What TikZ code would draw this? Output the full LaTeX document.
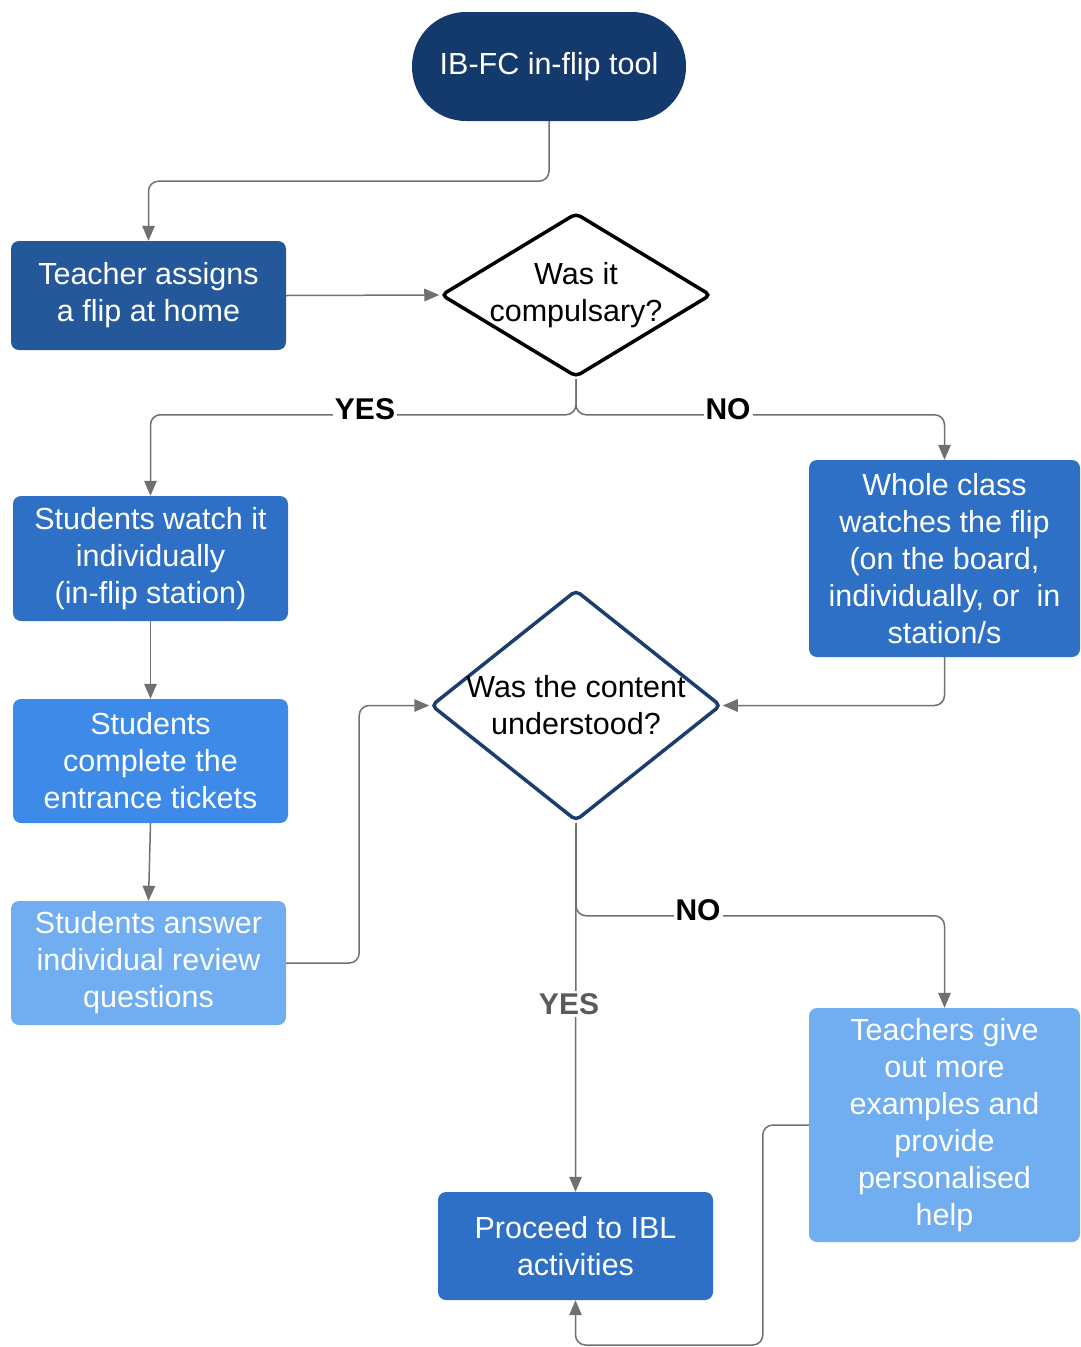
\documentclass[tikz,border=0pt]{standalone}
\usepackage{fontspec}
\setmainfont{Liberation Sans}
\usetikzlibrary{shapes.geometric,arrows.meta}

\definecolor{navy}{RGB}{20,57,108}
\definecolor{deepblue}{RGB}{36,88,155}
\definecolor{midblue}{RGB}{46,112,198}
\definecolor{brightblue}{RGB}{62,138,232}
\definecolor{paleblue}{RGB}{112,173,241}
\definecolor{rimblue}{RGB}{28,62,110}
\definecolor{linegray}{RGB}{112,112,112}
\definecolor{labelgray}{RGB}{90,90,90}

\tikzset{
    box/.style={rectangle, rounded corners=8pt, text=white, align=center,
        minimum width=275pt, minimum height=109pt, inner sep=0pt,
        font=\fontsize{30.5}{37}\selectfont},
    decision/.style={diamond, draw, line width=3.5pt, fill=white,
        inner sep=0pt, rounded corners=5pt},
    decisiontext/.style={align=center, inner sep=0pt, font=\fontsize{30.5}{37}\selectfont},
    conn/.style={draw=linegray, line width=1.5pt, rounded corners=10pt,
        -{Triangle[length=15pt,width=12.5pt]}},
    branch/.style={fill=white, inner sep=2pt, font=\bfseries\fontsize{30}{32}\selectfont},
}

\begin{document}
\begin{tikzpicture}[x=1pt,y=1pt,yscale=-1]
        \useasboundingbox (0,0) rectangle (1080,1347);
        % Start terminal
        \node [box, fill=navy, rounded corners=54pt, minimum width=274pt] (start) at (549,66.5) {IB-FC in-flip tool};
        % Boxes
        \node [box, fill=deepblue] (assign) at (148.5,295.5) {Teacher assigns\\a flip at home};
        \node [box, fill=midblue, minimum height=125pt] (watch) at (150.5,558.5) {Students watch it\\individually\\(in-flip station)};
        \node [box, fill=brightblue, minimum height=124pt] (complete) at (150.5,761) {Students\\complete the\\entrance tickets};
        \node [box, fill=paleblue, minimum height=124pt] (answer) at (148.5,963) {Students answer\\individual review\\questions};
        \node [box, fill=midblue, minimum width=271pt, minimum height=197pt] (whole) at (944.5,558.5) {Whole class\\watches the flip\\(on the board,\\individually, or\ \ in\\station/s};
        \node [box, fill=paleblue, minimum width=271pt, minimum height=234pt] (teachers) at (944.5,1125) {Teachers give\\out more\\examples and\\provide\\personalised\\help};
        \node [box, fill=midblue, minimum height=108pt] (proceed) at (575.5,1246) {Proceed to IBL\\activities};
        % Decisions (text set as a centre label so the diamond keeps its size)
        \node [decision, minimum width=270pt, minimum height=164pt,
            label={[decisiontext]center:Was it\\compulsary?}] (dec1) at (576,295) {};
        \node [decision, draw=rimblue, minimum width=290pt, minimum height=231pt,
            label={[decisiontext]center:Was the content\\understood?}] (dec2) at (576,705.5) {};

        % Connectors
        \draw [conn] (start.south) -- ++(0,60) -| (assign.north);
        \draw [conn] (assign.east) -- (dec1.west);
        \draw [conn] (dec1.south) -- ++(0,36) -| (watch.north);
        \draw [conn] (dec1.south) -- ++(0,36) -| (whole.north);
        \draw [conn] (watch.south) -- (complete.north);
        \draw [conn] (complete.south) -- (answer.north);
        \draw [conn] (answer.east) -- ++(73,0) |- (dec2.west);
        \draw [conn] (whole.south) |- (dec2.east);
        \draw [conn] (dec2.south) -- (proceed.north);
        \draw [conn] (dec2.south) -- ++(0,93) -| (teachers.north);
        \draw [conn] (teachers.west) -- ++(-46,0) -- ++(0,220) -| (proceed.south);

        % Branch labels
        \node [branch] (yes1) at (365,409) {YES};
        \node [branch] (no1) at (728,409) {NO};
        \node [branch] (no2) at (698,910) {NO};
        \node [branch, text=labelgray] (yes2) at (569,1004) {YES};
\end{tikzpicture}
\end{document}
